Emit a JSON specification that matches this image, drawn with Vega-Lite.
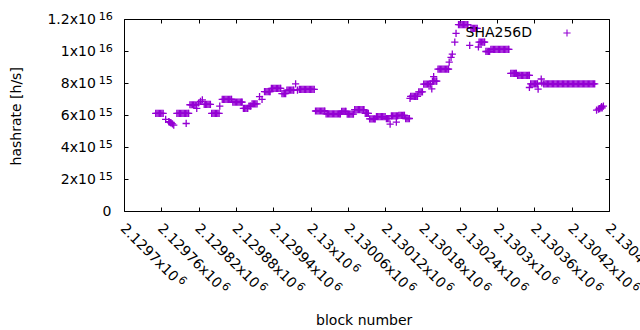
{
"$schema":"https://vega.github.io/schema/vega-lite/v6.json",
"width":485,"height":192,
"autosize":{"type":"none"},
"padding":{"left":124,"top":19,"right":31,"bottom":119},
"background":"white",
"config":{
"view":{"stroke":"black","strokeWidth":1},
"axis":{"labelFont":"DejaVu Sans","labelFontSize":14,"labelColor":"black","titleFont":"DejaVu Sans","titleFontSize":14,"titleFontWeight":"normal","titleColor":"black","grid":false,"domain":false,"tickColor":"black","labelOverlap":false,"labelFlush":false,"labelBound":false}
},
"data":{"values":[
{"block":2129751,"hashrate":6.1e15},{"block":2129753,"hashrate":6.1e15},{"block":2129755,"hashrate":6.1e15},{"block":2129757,"hashrate":6.1e15},{"block":2129759,"hashrate":6.1e15},{"block":2129761,"hashrate":6.1e15},{"block":2129763,"hashrate":6.1e15},
{"block":2129767,"hashrate":5.73e15},{"block":2129772,"hashrate":5.58e15},{"block":2129773,"hashrate":5.55e15},{"block":2129775,"hashrate":5.52e15},{"block":2129776,"hashrate":5.5e15},{"block":2129778,"hashrate":5.45e15},{"block":2129780,"hashrate":5.37e15},
{"block":2129785,"hashrate":6.1e15},{"block":2129787,"hashrate":6.1e15},{"block":2129789,"hashrate":6.1e15},{"block":2129791,"hashrate":6.1e15},{"block":2129793,"hashrate":6.1e15},{"block":2129795,"hashrate":6.1e15},{"block":2129797,"hashrate":6.1e15},{"block":2129799,"hashrate":6.1e15},{"block":2129801,"hashrate":6.1e15},{"block":2129803,"hashrate":6.1e15},{"block":2129804,"hashrate":6.1e15},
{"block":2129800,"hashrate":5.47e15},
{"block":2129806,"hashrate":6.64e15},{"block":2129808,"hashrate":6.64e15},{"block":2129810,"hashrate":6.64e15},{"block":2129812,"hashrate":6.64e15},{"block":2129814,"hashrate":6.64e15},{"block":2129816,"hashrate":6.64e15},
{"block":2129817,"hashrate":6.42e15},{"block":2129820,"hashrate":6.75e15},{"block":2129823,"hashrate":6.85e15},{"block":2129826,"hashrate":6.94e15},
{"block":2129829,"hashrate":6.66e15},{"block":2129831,"hashrate":6.66e15},{"block":2129833,"hashrate":6.66e15},{"block":2129835,"hashrate":6.66e15},{"block":2129837,"hashrate":6.66e15},{"block":2129839,"hashrate":6.66e15},
{"block":2129841,"hashrate":6.1e15},{"block":2129843,"hashrate":6.1e15},{"block":2129845,"hashrate":6.1e15},{"block":2129847,"hashrate":6.1e15},{"block":2129849,"hashrate":6.1e15},{"block":2129851,"hashrate":6.1e15},{"block":2129853,"hashrate":6.1e15},
{"block":2129854,"hashrate":6.56e15},
{"block":2129858,"hashrate":6.98e15},{"block":2129860,"hashrate":6.98e15},{"block":2129862,"hashrate":6.98e15},{"block":2129864,"hashrate":6.98e15},{"block":2129866,"hashrate":6.98e15},{"block":2129868,"hashrate":6.98e15},{"block":2129870,"hashrate":6.98e15},{"block":2129872,"hashrate":6.98e15},{"block":2129873,"hashrate":6.98e15},
{"block":2129875,"hashrate":6.8e15},{"block":2129877,"hashrate":6.8e15},{"block":2129879,"hashrate":6.8e15},{"block":2129881,"hashrate":6.8e15},{"block":2129883,"hashrate":6.8e15},{"block":2129885,"hashrate":6.8e15},{"block":2129887,"hashrate":6.8e15},{"block":2129889,"hashrate":6.8e15},{"block":2129890,"hashrate":6.8e15},
{"block":2129892,"hashrate":6.42e15},{"block":2129894,"hashrate":6.42e15},{"block":2129896,"hashrate":6.42e15},{"block":2129898,"hashrate":6.42e15},{"block":2129899,"hashrate":6.42e15},
{"block":2129901,"hashrate":6.56e15},{"block":2129903,"hashrate":6.56e15},{"block":2129904,"hashrate":6.56e15},
{"block":2129906,"hashrate":6.69e15},{"block":2129908,"hashrate":6.69e15},{"block":2129910,"hashrate":6.69e15},{"block":2129912,"hashrate":6.69e15},{"block":2129914,"hashrate":6.69e15},
{"block":2129918,"hashrate":7.15e15},{"block":2129922,"hashrate":6.98e15},
{"block":2129926,"hashrate":7.46e15},{"block":2129928,"hashrate":7.46e15},{"block":2129930,"hashrate":7.46e15},{"block":2129932,"hashrate":7.46e15},{"block":2129934,"hashrate":7.46e15},{"block":2129935,"hashrate":7.46e15},
{"block":2129937,"hashrate":7.67e15},{"block":2129939,"hashrate":7.67e15},{"block":2129941,"hashrate":7.67e15},{"block":2129943,"hashrate":7.67e15},{"block":2129945,"hashrate":7.67e15},{"block":2129947,"hashrate":7.67e15},{"block":2129949,"hashrate":7.67e15},{"block":2129951,"hashrate":7.67e15},{"block":2129952,"hashrate":7.67e15},
{"block":2129954,"hashrate":7.33e15},{"block":2129956,"hashrate":7.33e15},{"block":2129958,"hashrate":7.33e15},{"block":2129960,"hashrate":7.33e15},
{"block":2129962,"hashrate":7.55e15},{"block":2129964,"hashrate":7.55e15},{"block":2129966,"hashrate":7.55e15},{"block":2129968,"hashrate":7.55e15},{"block":2129970,"hashrate":7.55e15},{"block":2129972,"hashrate":7.55e15},{"block":2129973,"hashrate":7.55e15},
{"block":2129976,"hashrate":7.95e15},{"block":2129979,"hashrate":7.56e15},
{"block":2129982,"hashrate":7.6e15},{"block":2129984,"hashrate":7.6e15},{"block":2129986,"hashrate":7.6e15},{"block":2129988,"hashrate":7.6e15},{"block":2129990,"hashrate":7.6e15},{"block":2129992,"hashrate":7.6e15},{"block":2129994,"hashrate":7.6e15},{"block":2129996,"hashrate":7.6e15},{"block":2129998,"hashrate":7.6e15},{"block":2130000,"hashrate":7.6e15},{"block":2130002,"hashrate":7.6e15},{"block":2130004,"hashrate":7.6e15},{"block":2130006,"hashrate":7.6e15},
{"block":2130008,"hashrate":6.25e15},{"block":2130010,"hashrate":6.25e15},{"block":2130012,"hashrate":6.25e15},{"block":2130014,"hashrate":6.25e15},{"block":2130016,"hashrate":6.25e15},{"block":2130018,"hashrate":6.25e15},{"block":2130020,"hashrate":6.25e15},{"block":2130022,"hashrate":6.25e15},{"block":2130023,"hashrate":6.25e15},
{"block":2130025,"hashrate":6.07e15},{"block":2130027,"hashrate":6.07e15},{"block":2130029,"hashrate":6.07e15},{"block":2130031,"hashrate":6.07e15},{"block":2130033,"hashrate":6.07e15},{"block":2130035,"hashrate":6.07e15},{"block":2130037,"hashrate":6.07e15},{"block":2130039,"hashrate":6.07e15},{"block":2130041,"hashrate":6.07e15},{"block":2130043,"hashrate":6.07e15},{"block":2130045,"hashrate":6.07e15},{"block":2130047,"hashrate":6.07e15},{"block":2130048,"hashrate":6.07e15},
{"block":2130050,"hashrate":6.22e15},{"block":2130052,"hashrate":6.22e15},{"block":2130054,"hashrate":6.22e15},{"block":2130056,"hashrate":6.22e15},{"block":2130057,"hashrate":6.22e15},
{"block":2130059,"hashrate":6.06e15},{"block":2130061,"hashrate":6.06e15},{"block":2130063,"hashrate":6.06e15},{"block":2130065,"hashrate":6.06e15},{"block":2130067,"hashrate":6.06e15},{"block":2130069,"hashrate":6.06e15},
{"block":2130071,"hashrate":6.33e15},{"block":2130073,"hashrate":6.33e15},{"block":2130075,"hashrate":6.33e15},{"block":2130077,"hashrate":6.33e15},{"block":2130079,"hashrate":6.33e15},{"block":2130081,"hashrate":6.33e15},{"block":2130083,"hashrate":6.33e15},{"block":2130085,"hashrate":6.33e15},{"block":2130086,"hashrate":6.33e15},
{"block":2130088,"hashrate":6.1e15},{"block":2130090,"hashrate":6.1e15},{"block":2130092,"hashrate":6.1e15},{"block":2130093,"hashrate":6.1e15},
{"block":2130095,"hashrate":5.76e15},{"block":2130097,"hashrate":5.76e15},{"block":2130099,"hashrate":5.76e15},{"block":2130101,"hashrate":5.76e15},{"block":2130103,"hashrate":5.76e15},{"block":2130104,"hashrate":5.76e15},
{"block":2130106,"hashrate":5.9e15},{"block":2130108,"hashrate":5.9e15},{"block":2130110,"hashrate":5.9e15},{"block":2130112,"hashrate":5.9e15},{"block":2130114,"hashrate":5.9e15},{"block":2130116,"hashrate":5.9e15},{"block":2130118,"hashrate":5.9e15},{"block":2130120,"hashrate":5.9e15},
{"block":2130122,"hashrate":5.78e15},{"block":2130124,"hashrate":5.78e15},{"block":2130126,"hashrate":5.78e15},
{"block":2130128,"hashrate":5.43e15},
{"block":2130130,"hashrate":5.95e15},{"block":2130132,"hashrate":5.95e15},{"block":2130134,"hashrate":5.95e15},{"block":2130136,"hashrate":5.95e15},{"block":2130138,"hashrate":5.95e15},{"block":2130140,"hashrate":5.95e15},
{"block":2130138,"hashrate":5.56e15},
{"block":2130142,"hashrate":5.98e15},{"block":2130144,"hashrate":5.98e15},{"block":2130146,"hashrate":5.98e15},{"block":2130148,"hashrate":5.98e15},{"block":2130150,"hashrate":5.98e15},{"block":2130151,"hashrate":5.98e15},
{"block":2130153,"hashrate":5.78e15},{"block":2130155,"hashrate":5.78e15},{"block":2130157,"hashrate":5.78e15},{"block":2130159,"hashrate":5.78e15},
{"block":2130160,"hashrate":7.04e15},
{"block":2130161,"hashrate":7.16e15},{"block":2130163,"hashrate":7.16e15},{"block":2130165,"hashrate":7.16e15},{"block":2130167,"hashrate":7.16e15},{"block":2130169,"hashrate":7.16e15},{"block":2130171,"hashrate":7.16e15},{"block":2130172,"hashrate":7.16e15},
{"block":2130174,"hashrate":7.45e15},{"block":2130176,"hashrate":7.45e15},{"block":2130178,"hashrate":7.45e15},{"block":2130180,"hashrate":7.45e15},
{"block":2130182,"hashrate":7.93e15},{"block":2130184,"hashrate":7.93e15},{"block":2130186,"hashrate":7.93e15},{"block":2130188,"hashrate":7.93e15},{"block":2130190,"hashrate":7.93e15},{"block":2130192,"hashrate":7.93e15},{"block":2130193,"hashrate":7.93e15},
{"block":2130195,"hashrate":7.63e15},
{"block":2130196,"hashrate":8.12e15},{"block":2130198,"hashrate":8.12e15},{"block":2130200,"hashrate":8.12e15},{"block":2130202,"hashrate":8.12e15},{"block":2130203,"hashrate":8.12e15},
{"block":2130198,"hashrate":8.4e15},
{"block":2130205,"hashrate":8.87e15},{"block":2130207,"hashrate":8.87e15},{"block":2130209,"hashrate":8.87e15},{"block":2130211,"hashrate":8.87e15},{"block":2130213,"hashrate":8.87e15},{"block":2130215,"hashrate":8.87e15},{"block":2130217,"hashrate":8.87e15},{"block":2130219,"hashrate":8.87e15},{"block":2130221,"hashrate":8.87e15},{"block":2130222,"hashrate":8.87e15},
{"block":2130223,"hashrate":9.31e15},{"block":2130226,"hashrate":9.6e15},{"block":2130228,"hashrate":9.8e15},{"block":2130232,"hashrate":10.56e15},{"block":2130234,"hashrate":11.1e15},
{"block":2130238,"hashrate":11.65e15},{"block":2130240,"hashrate":11.65e15},{"block":2130242,"hashrate":11.65e15},{"block":2130244,"hashrate":11.65e15},{"block":2130246,"hashrate":11.65e15},{"block":2130248,"hashrate":11.65e15},{"block":2130250,"hashrate":11.65e15},{"block":2130252,"hashrate":11.65e15},{"block":2130253,"hashrate":11.65e15},
{"block":2130256,"hashrate":10.35e15},
{"block":2130258,"hashrate":11.42e15},{"block":2130260,"hashrate":11.42e15},{"block":2130262,"hashrate":11.42e15},{"block":2130264,"hashrate":11.42e15},{"block":2130266,"hashrate":11.42e15},{"block":2130268,"hashrate":11.42e15},
{"block":2130270,"hashrate":10.25e15},
{"block":2130271,"hashrate":10.56e15},{"block":2130273,"hashrate":10.56e15},{"block":2130275,"hashrate":10.56e15},{"block":2130277,"hashrate":10.56e15},{"block":2130279,"hashrate":10.56e15},{"block":2130280,"hashrate":10.56e15},
{"block":2130282,"hashrate":9.97e15},{"block":2130284,"hashrate":9.97e15},{"block":2130286,"hashrate":9.97e15},{"block":2130288,"hashrate":9.97e15},
{"block":2130290,"hashrate":10.1e15},{"block":2130292,"hashrate":10.1e15},{"block":2130294,"hashrate":10.1e15},{"block":2130296,"hashrate":10.1e15},{"block":2130298,"hashrate":10.1e15},{"block":2130300,"hashrate":10.1e15},{"block":2130302,"hashrate":10.1e15},{"block":2130304,"hashrate":10.1e15},{"block":2130306,"hashrate":10.1e15},{"block":2130308,"hashrate":10.1e15},{"block":2130310,"hashrate":10.1e15},{"block":2130312,"hashrate":10.1e15},{"block":2130314,"hashrate":10.1e15},{"block":2130316,"hashrate":10.1e15},{"block":2130318,"hashrate":10.1e15},{"block":2130319,"hashrate":10.1e15},
{"block":2130322,"hashrate":8.6e15},{"block":2130324,"hashrate":8.6e15},{"block":2130326,"hashrate":8.6e15},{"block":2130328,"hashrate":8.6e15},{"block":2130330,"hashrate":8.6e15},{"block":2130331,"hashrate":8.6e15},
{"block":2130333,"hashrate":8.48e15},{"block":2130335,"hashrate":8.48e15},{"block":2130337,"hashrate":8.48e15},{"block":2130339,"hashrate":8.48e15},{"block":2130341,"hashrate":8.48e15},{"block":2130343,"hashrate":8.48e15},{"block":2130345,"hashrate":8.48e15},{"block":2130347,"hashrate":8.48e15},{"block":2130349,"hashrate":8.48e15},{"block":2130351,"hashrate":8.48e15},{"block":2130352,"hashrate":8.48e15},
{"block":2130352,"hashrate":7.72e15},{"block":2130366,"hashrate":7.62e15},{"block":2130371,"hashrate":8.25e15},{"block":2130372,"hashrate":8.0e15},
{"block":2130354,"hashrate":7.95e15},{"block":2130356,"hashrate":7.95e15},{"block":2130358,"hashrate":7.95e15},{"block":2130360,"hashrate":7.95e15},{"block":2130362,"hashrate":7.95e15},{"block":2130364,"hashrate":7.95e15},{"block":2130365,"hashrate":7.95e15},
{"block":2130375,"hashrate":7.95e15},{"block":2130377,"hashrate":7.95e15},{"block":2130379,"hashrate":7.95e15},{"block":2130381,"hashrate":7.95e15},{"block":2130383,"hashrate":7.95e15},{"block":2130385,"hashrate":7.95e15},{"block":2130387,"hashrate":7.95e15},{"block":2130389,"hashrate":7.95e15},{"block":2130391,"hashrate":7.95e15},{"block":2130393,"hashrate":7.95e15},{"block":2130395,"hashrate":7.95e15},{"block":2130397,"hashrate":7.95e15},{"block":2130399,"hashrate":7.95e15},{"block":2130401,"hashrate":7.95e15},{"block":2130403,"hashrate":7.95e15},{"block":2130405,"hashrate":7.95e15},{"block":2130407,"hashrate":7.95e15},{"block":2130409,"hashrate":7.95e15},{"block":2130411,"hashrate":7.95e15},{"block":2130413,"hashrate":7.95e15},{"block":2130415,"hashrate":7.95e15},{"block":2130417,"hashrate":7.95e15},{"block":2130419,"hashrate":7.95e15},{"block":2130421,"hashrate":7.95e15},{"block":2130423,"hashrate":7.95e15},{"block":2130425,"hashrate":7.95e15},{"block":2130427,"hashrate":7.95e15},{"block":2130429,"hashrate":7.95e15},{"block":2130431,"hashrate":7.95e15},{"block":2130433,"hashrate":7.95e15},{"block":2130435,"hashrate":7.95e15},{"block":2130437,"hashrate":7.95e15},{"block":2130439,"hashrate":7.95e15},{"block":2130441,"hashrate":7.95e15},{"block":2130443,"hashrate":7.95e15},{"block":2130445,"hashrate":7.95e15},{"block":2130447,"hashrate":7.95e15},{"block":2130449,"hashrate":7.95e15},{"block":2130451,"hashrate":7.95e15},{"block":2130453,"hashrate":7.95e15},{"block":2130455,"hashrate":7.95e15},{"block":2130457,"hashrate":7.95e15},
{"block":2130460,"hashrate":6.31e15},{"block":2130463,"hashrate":6.37e15},{"block":2130465,"hashrate":6.4e15},{"block":2130467,"hashrate":6.44e15},{"block":2130468,"hashrate":6.53e15},{"block":2130469,"hashrate":6.44e15},{"block":2130471,"hashrate":6.56e15}
]},
"layer":[
{
"mark":{"type":"point","shape":"M-1,0H1M0,-1V1","filled":false,"size":52,"strokeWidth":1.3,"opacity":1},
"encoding":{
"x":{"field":"block","type":"quantitative","scale":{"domain":[2129700,2130480],"nice":false,"zero":false},
"axis":{"orient":"bottom","values":[2129700,2129760,2129820,2129880,2129940,2130000,2130060,2130120,2130180,2130240,2130300,2130360,2130420,2130480],"ticks":false,"labelExpr":"format(datum.value/1e6,'.6~g')+'x10'","labelAngle":45,"labelAlign":"left","labelBaseline":"middle","labelPadding":15,"labelOffset":-2,"title":"block number","titleX":239.7,"titleY":113.9,"titleAlign":"center","titleBaseline":"alphabetic","titleAngle":0}},
"y":{"field":"hashrate","type":"quantitative","scale":{"domain":[0,1.2e16],"nice":false,"zero":true},
"axis":{"orient":"left","values":[2e15,4e15,6e15,8e15,1e16,1.2e16],"ticks":false,"labelExpr":"datum.value>=1e16?format(datum.value/1e16,'~g')+'x10':format(datum.value/1e15,'~g')+'x10'","labelAlign":"right","labelBaseline":"middle","labelPadding":28.7,"labelOffset":0.8,"title":"hashrate [h/s]","titleX":-103.6,"titleY":96.8,"titleAngle":270,"titleAlign":"center","titleBaseline":"alphabetic"}},
"color":{"datum":"SHA256D","type":"nominal","scale":{"range":["#9400d3"]},
"legend":{"orient":"none","legendX":436,"legendY":7,"title":null,"padding":0,"labelAlign":"right","labelBaseline":"middle","labelOffset":-42,"labelFont":"DejaVu Sans","labelFontSize":14,"labelColor":"black","symbolType":"M-1,0H1M0,-1V1","symbolSize":52,"symbolStrokeWidth":1.1,"symbolFillColor":"transparent","symbolStrokeColor":"#9400d3","symbolOpacity":1}}
}
},
{
"mark":{"type":"point","opacity":0},
"encoding":{
"x":{"field":"block","type":"quantitative","scale":{"domain":[2129700,2130480],"nice":false,"zero":false},
"axis":{"orient":"bottom","values":[2129760,2129820,2129880,2129940,2130060,2130120,2130180,2130240,2130360,2130420,2130480],"ticks":false,"labelExpr":"'6'","labelAngle":45,"labelAlign":"left","labelBaseline":"middle","labelPadding":73.2,"labelOffset":61.4,"labelFontSize":11.2,"title":null}},
"y":{"field":"hashrate","type":"quantitative","scale":{"domain":[0,1.2e16],"nice":false,"zero":true},
"axis":{"orient":"left","values":[2e15,4e15,6e15,8e15,1e16,1.2e16],"ticks":false,"labelExpr":"datum.value>=1e16?'16':'15'","labelAlign":"right","labelBaseline":"middle","labelPadding":11.6,"labelOffset":-2.9,"labelFontSize":11.2,"title":null}}
}
},
{
"mark":{"type":"point","opacity":0},
"encoding":{
"x":{"field":"block","type":"quantitative","scale":{"domain":[2129700,2130480],"nice":false,"zero":false},
"axis":{"orient":"bottom","offset":-192,"values":[2129700,2129760,2129820,2129880,2129940,2130000,2130060,2130120,2130180,2130240,2130300,2130360,2130420,2130480],"labels":false,"ticks":true,"tickSize":4,"tickWidth":1,"title":null}},
"y":{"field":"hashrate","type":"quantitative","scale":{"domain":[0,1.2e16],"nice":false,"zero":true},
"axis":{"orient":"left","offset":-485,"values":[0,2e15,4e15,6e15,8e15,1e16,1.2e16],"labels":false,"ticks":true,"tickSize":4,"tickWidth":1,"title":null}}
}
},
{
"mark":{"type":"point","opacity":0},
"encoding":{
"x":{"field":"block","type":"quantitative","scale":{"domain":[2129700,2130480],"nice":false,"zero":false},
"axis":{"orient":"top","offset":-192,"values":[2129700,2129760,2129820,2129880,2129940,2130000,2130060,2130120,2130180,2130240,2130300,2130360,2130420,2130480],"labels":false,"ticks":true,"tickSize":4,"tickWidth":1,"title":null}},
"y":{"field":"hashrate","type":"quantitative","scale":{"domain":[0,1.2e16],"nice":false,"zero":true},
"axis":{"orient":"right","offset":-485,"values":[0,2e15,4e15,6e15,8e15,1e16,1.2e16],"labels":false,"ticks":true,"tickSize":4,"tickWidth":1,"title":null}}
}
},
{
"mark":{"type":"point","opacity":0},
"encoding":{
"x":{"field":"block","type":"quantitative","scale":{"domain":[2129700,2130480],"nice":false,"zero":false},
"axis":{"orient":"bottom","values":[2129700,2130300],"ticks":false,"labelExpr":"'6'","labelAngle":45,"labelAlign":"left","labelBaseline":"middle","labelPadding":66.9,"labelOffset":55.1,"labelFontSize":11.2,"title":null}},
"y":{"field":"hashrate","type":"quantitative","scale":{"domain":[0,1.2e16],"nice":false,"zero":true},
"axis":{"orient":"left","values":[0],"ticks":false,"labelExpr":"'0'","labelAlign":"right","labelBaseline":"middle","labelPadding":13,"labelOffset":0.8,"labelFontSize":14,"title":null}}
}
},
{
"mark":{"type":"point","opacity":0},
"encoding":{
"x":{"field":"block","type":"quantitative","scale":{"domain":[2129700,2130480],"nice":false,"zero":false},
"axis":{"orient":"bottom","values":[2130000],"ticks":false,"labelExpr":"'6'","labelAngle":45,"labelAlign":"left","labelBaseline":"middle","labelPadding":54.3,"labelOffset":42.5,"labelFontSize":11.2,"title":null}},
"y":{"field":"hashrate","type":"quantitative","scale":{"domain":[0,1.2e16],"nice":false,"zero":true},"axis":null}
}
}
],
"resolve":{"axis":{"x":"independent","y":"independent"}}
}
